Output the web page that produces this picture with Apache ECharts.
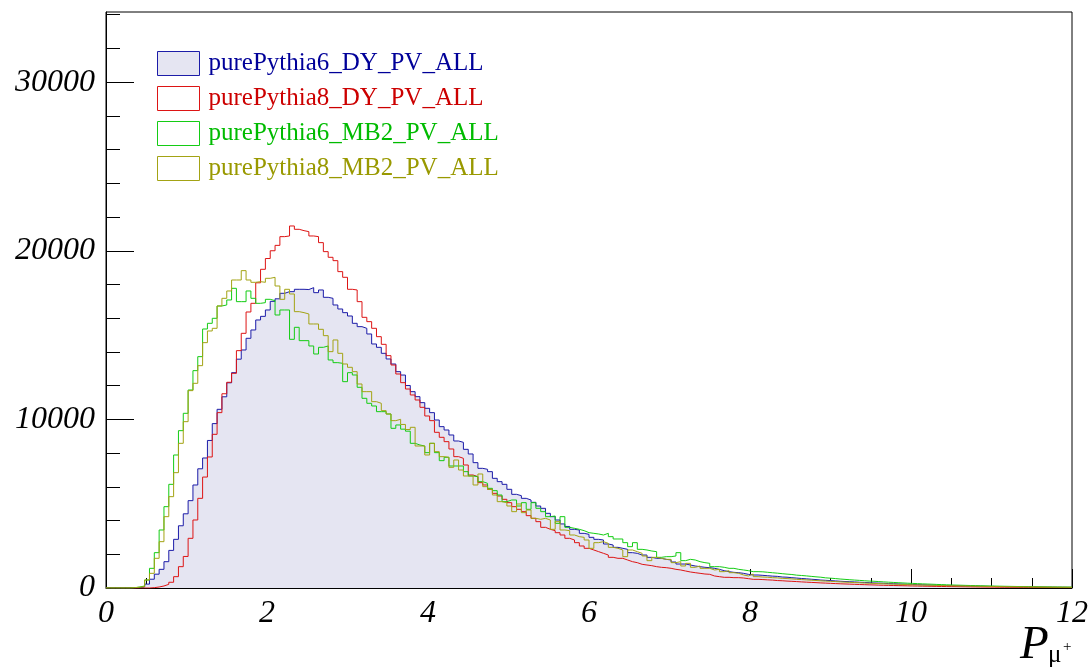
<!DOCTYPE html>
<html><head><meta charset="utf-8">
<script src="https://cdn.jsdelivr.net/npm/echarts@6/dist/echarts.min.js"></script>
<style>html,body{margin:0;padding:0;background:#fff}#c{width:1091px;height:671px}</style>
</head><body><div id="c"></div>
<script>
// Histogram binning (200 bins over 0..12)
const binLow = 0;
const binWidth = 0.06;

const seriesNames = ['purePythia6_DY_PV_ALL', 'purePythia8_DY_PV_ALL', 'purePythia6_MB2_PV_ALL', 'purePythia8_MB2_PV_ALL'];
const yMajorTicks = [0, 10000, 20000, 30000];
const yMinorTicks = [2000, 4000, 6000, 8000, 12000, 14000, 16000, 18000, 22000, 24000, 26000, 28000, 32000, 34000];

const p6DY = [
0,0,0,0,0,0,20,60,230,520,
820,1107,1560,2230,2886,3690,4400,5180,6109,7070,
7710,8750,9750,10597,11340,12170,12771,13570,14116,14808,
15302,15895,16110,16488,17000,17150,17477,17575,17575,17714,
17714,17700,17813,17516,17674,17239,17180,16785,16547,16330,
16132,15697,15500,15400,15065,14472,14274,13918,13582,13285,
12831,12630,12010,11645,11348,10992,10656,10399,9964,9569,
9371,9074,8718,8639,8224,7948,7434,7097,7038,6900,
6504,6307,6148,5852,5555,5476,5318,5219,5081,4863,
4725,4428,4231,4033,3800,3650,3480,3440,3242,3183,
3005,2886,2847,2610,2550,2412,2353,2293,2096,2056,
1957,1957,1819,1760,1760,1700,1661,1542,1423,1423,
1364,1305,1265,1226,1206,1166,1107,1028,969,929,
909,870,811,771,771,
750,728,705,690,652,640,612,590,565,545,
520,500,472,455,440,420,400,385,372,360,
342,330,316,300,292,280,262,255,242,232,
222,210,200,192,182,175,165,158,150,142,
135,128,122,118,110,104,100,95,90,85,
80,76,72,68,64,60,57,54,50,48,
45,42,40,38,36
];

const p8DY = [
0,0,0,0,0,0,0,0,0,20,
60,119,217,340,672,1265,1870,2946,4033,5318,
6580,7770,9114,10400,11520,12200,12732,14076,15104,16369,
16883,18100,18900,19540,20000,20320,20838,20877,21470,21273,
21193,21134,20877,20838,20482,19948,19612,19414,18762,18426,
17714,17674,16982,16053,15796,15401,14906,14452,13780,13226,
12692,12178,11800,11447,11150,10715,10201,9925,9233,8936,
8679,8244,7790,7690,7295,6702,6603,6247,6109,5852,
5614,5456,5259,5061,4824,4666,4527,4290,4132,3934,
3598,3480,3400,3280,3144,2946,2847,2689,2491,2353,
2254,2155,2056,1957,1819,1760,1760,1661,1562,1503,
1404,1364,1325,1265,1226,1206,1166,1107,1068,1008,
949,909,870,830,811,712,672,633,633,613,
613,593,554,514,514,
500,482,468,442,430,410,396,380,362,346,
332,318,302,290,276,262,250,240,228,218,
206,198,188,180,170,162,155,148,140,135,
128,120,115,110,105,100,95,90,86,82,
78,74,70,66,63,60,57,54,51,48,
46,44,42,40,38,36,34,32,30,29,
28,27,26,25,24
];

const p6MB2 = [
0,0,0,0,0,20,60,119,475,1166,
2096,3440,4824,6148,7888,9331,10360,11743,12890,13720,
15361,15697,15994,16725,16785,17081,17773,16982,16982,17615,
17180,16883,16923,17120,17041,16191,16488,16488,14748,15460,
14669,14669,14353,13878,14274,14353,13523,13365,13325,12237,
12771,12633,11902,11249,10953,10794,10458,10458,10320,9470,
9668,9420,9300,8580,8481,8422,8027,8580,8027,7552,
7750,7236,7236,7236,6900,6643,6603,6307,6208,5911,
5773,5516,5120,5219,5219,4863,5061,4666,5061,4725,
4527,4231,4270,3835,4231,3598,3539,3480,3400,3282,
3242,3203,3143,3242,3045,2906,2906,2689,2451,2689,
2293,2254,2194,2155,1819,1858,1858,1898,2096,1621,
1700,1661,1562,1503,1463,1265,1265,1226,1166,1166,
1107,1068,1028,969,969,
960,932,905,880,850,822,800,762,742,718,
690,662,640,602,582,560,532,512,490,470,
452,430,412,400,380,362,345,330,315,300,
285,272,260,246,236,225,212,202,190,180,
172,164,155,148,140,134,126,120,114,108,
102,97,92,88,84,80,76,72,69,66,
63,60,57,55,52
];

const p8MB2 = [
0,0,0,0,0,20,50,80,475,870,
1760,2748,4231,5417,6840,8580,9865,11704,12139,13186,
14551,15243,15400,16725,17180,17615,18267,18267,18821,18267,
18129,18168,18129,18366,18425,17911,17120,17714,17437,16389,
16330,16251,15658,15658,15341,14966,14017,14709,13918,13285,
13088,12831,12099,11645,11645,11051,10953,10518,10320,9925,
10004,9700,9400,9530,8422,8422,7888,8580,8086,7790,
7750,7157,7592,6998,6643,6643,6109,6761,6010,5852,
5516,5120,5061,4863,4527,4982,4468,4626,4132,4073,
4132,4033,3480,3934,3440,3400,3143,3045,3005,2847,
2353,2689,2748,2649,2412,2353,2254,1858,2254,2155,
2056,1898,1621,1819,1760,1700,1700,1503,1562,1305,
1463,1226,1305,1166,1166,1068,1107,969,1028,909,
870,771,712,830,672,
650,638,612,600,572,560,540,515,500,480,
462,445,425,410,395,380,365,350,336,322,
310,296,285,272,262,250,240,230,220,210,
200,192,184,176,168,160,152,146,140,134,
128,122,116,110,105,100,96,92,88,84,
80,76,72,69,66,63,60,57,54,52,
50,48,46,44,42
];

function toSteps(vals) {
  const d = vals.map((v, i) => [binLow + i * binWidth, v]);
  d.push([binLow + vals.length * binWidth, vals[vals.length - 1]]);
  return d;
}

const font = '"Liberation Serif","Times New Roman",serif';
const lineColors = ['#1c1ca8', '#dd1414', '#14cc14', '#a3a314'];
const textColors = ['#000099', '#cc0000', '#00bb00', '#999900'];
const fillColor = '#e5e5f2';
const allData = [p6DY, p8DY, p6MB2, p8MB2];

const chart = echarts.init(document.getElementById('c'), null, {renderer: 'canvas'});

const series = allData.map((vals, i) => ({
  name: seriesNames[i],
  type: 'line',
  step: 'end',
  data: toSteps(vals),
  showSymbol: false,
  symbol: 'none',
  clip: true,
  z: 2 + i,
  lineStyle: {color: lineColors[i], width: 1},
  itemStyle: {color: lineColors[i]},
  areaStyle: i === 0 ? {color: fillColor, opacity: 1} : undefined
}));

const yMax = 34160;

chart.setOption({
  animation: false,
  backgroundColor: '#fff',
  grid: {left: 106, right: 17, top: 12, bottom: 83, show: true, borderColor: '#000', borderWidth: 1, backgroundColor: 'transparent'},
  xAxis: {
    type: 'value', min: 0, max: 12, interval: 2,
    axisLine: {show: true, onZero: false, lineStyle: {color: '#000', width: 1}},
    axisTick: {show: true, inside: true, length: 19, lineStyle: {color: '#000', width: 1}},
    minorTick: {show: true, splitNumber: 4, length: 10, lineStyle: {color: '#000', width: 1}},
    axisLabel: {fontFamily: font, fontStyle: 'italic', fontSize: 32, color: '#000', margin: 10, formatter: v => String(v)},
    splitLine: {show: false}
  },
  yAxis: [
    {
      type: 'value', min: 0, max: yMax, position: 'left',
      axisLine: {show: true, onZero: false, lineStyle: {color: '#000', width: 1}},
      axisTick: {show: true, inside: true, length: 28, customValues: yMajorTicks, lineStyle: {color: '#000', width: 1}},
      axisLabel: {customValues: yMajorTicks, fontFamily: font, fontStyle: 'italic', fontSize: 32, color: '#000', margin: 11, formatter: v => String(v)},
      splitLine: {show: false}
    },
    {
      type: 'value', min: 0, max: yMax, position: 'left', offset: 0,
      axisLine: {show: false},
      axisTick: {show: true, inside: true, length: 14, customValues: yMinorTicks, lineStyle: {color: '#000', width: 1}},
      axisLabel: {show: false},
      splitLine: {show: false}
    }
  ],
  legend: {
    orient: 'vertical', left: 157, top: 51, padding: 0,
    itemWidth: 42, itemHeight: 24, itemGap: 10, icon: 'rect',
    selectedMode: false,
    textStyle: {fontFamily: font, fontSize: 25, padding: [2, 0, 0, 4]},
    data: seriesNames.map((n, i) => ({
      name: n,
      itemStyle: {color: i === 0 ? fillColor : '#ffffff', borderColor: lineColors[i], borderWidth: 1, opacity: 1},
      textStyle: {color: textColors[i], fontFamily: font, fontSize: 25, padding: [2, 0, 0, 4]}
    }))
  },
  graphic: [
    {type: 'text', left: 1020, top: 622, style: {text: 'P', font: 'italic 47px "Liberation Serif"', fill: '#000'}},
    {type: 'text', left: 1048, top: 643, style: {text: 'μ', font: '25px "Liberation Serif"', fill: '#000'}},
    {type: 'text', left: 1063, top: 640, style: {text: '+', font: '15px "Liberation Serif"', fill: '#000'}}
  ],
  series: series
});
</script>
</body></html>
